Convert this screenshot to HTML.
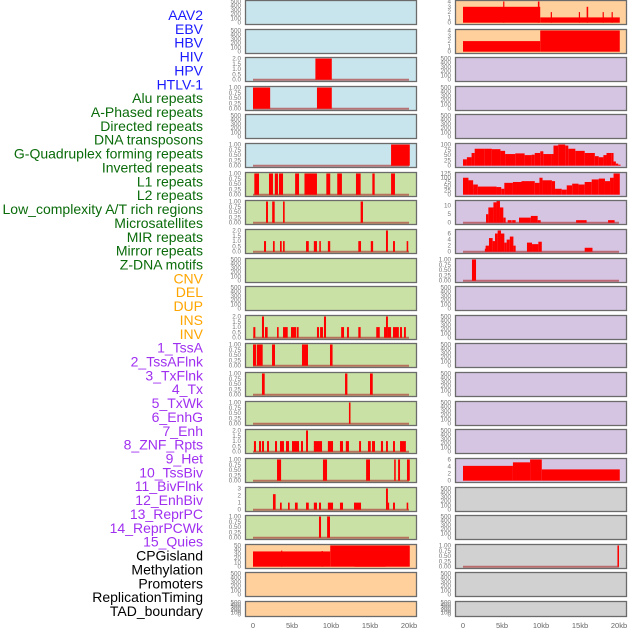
<!DOCTYPE html>
<html><head><meta charset="utf-8"><style>
html,body{margin:0;padding:0;background:#fff;width:630px;height:630px;overflow:hidden}
svg{display:block;font-family:"Liberation Sans",sans-serif}
</style></head><body>
<svg id="chart" width="630" height="630" viewBox="0 0 630 630"></svg>
<script>
// ---- labels ----
const trackLabels = ["AAV2","EBV","HBV","HIV","HPV","HTLV-1","Alu repeats","A-Phased repeats","Directed repeats","DNA transposons","G-Quadruplex forming repeats","Inverted repeats","L1 repeats","L2 repeats","Low_complexity A/T rich regions","Microsatellites","MIR repeats","Mirror repeats","Z-DNA motifs","CNV","DEL","DUP","INS","INV","1_TssA","2_TssAFlnk","3_TxFlnk","4_Tx","5_TxWk","6_EnhG","7_Enh","8_ZNF_Rpts","9_Het","10_TssBiv","11_BivFlnk","12_EnhBiv","13_ReprPC","14_ReprPCWk","15_Quies","CPGisland","Methylation","Promoters","ReplicationTiming","TAD_boundary"];
const labelGroupSizes = [6,13,5,15,5];
const xTickKb = [0,5,10,15,20];
const xTickLabels = ["0","5kb","10kb","15kb","20kb"];
// ---- y tick sets ----
const ticksEmpty = [0,100,200,300,400,500];
const ticksTwo = [0,0.5,1,1.5,2];
const ticksOne = [0,0.25,0.5,0.75,1];
const ticksFour = [0,1,2,3,4];
const ticksThree = [0,1,2,3];
const ticksHundred = [0,25,50,75,100];
const ticksHundred25 = [0,25,50,75,100,125];
const ticksTen = [0,5,10];
const ticksSix = [0,2,4,6];
const ticksFifty = [0,10,20,30,40,50];
// ---- series: [startKb, endKb, value] ----
const segC1R3 = [[8.0,10.1,2]];
const segC1R4 = [[0,2.2,1],[8.2,10.1,1]];
const segC1R6 = [[17.7,20.1,1]];
const segC1R7 = [[0.17,0.77,1],[2.05,2.56,1],[2.8,3.2,1],[3.33,3.85,1],[5.4,5.9,1],[6.6,8.2,1],[9.4,9.9,1],[10.8,11.4,1],[13.2,13.8,1],[15.3,15.6,1],[17.7,18.2,1]];
const segC1R8 = [[1.67,1.92,1],[2.46,2.78,1],[3.85,4.06,1],[13.8,14.1,1]];
const segC1R9 = [[1.41,1.67,1],[2.56,2.78,1],[3.46,3.68,1],[3.85,4.06,1],[6.8,7.15,1],[7.8,8.2,1],[8.5,8.7,1],[9.6,9.9,1],[13.5,13.85,1],[15.1,15.4,1],[17.05,17.3,2],[17.95,18.2,1],[19.7,19.9,1]];
const segC1R12 = [[0.04,0.3,1],[1.15,1.41,2],[1.54,1.88,1],[3.08,3.29,1],[3.85,4.45,1],[4.87,5.55,1],[5.64,5.85,1],[8.2,8.46,1],[8.6,8.97,1],[9.1,9.36,2],[11.3,11.67,1],[12.05,12.3,1],[13.5,13.8,1],[15.8,16.25,1],[16.8,17.05,1],[17.05,17.3,2],[17.3,17.7,1],[17.95,18.7,1],[18.85,19.1,1],[19.36,19.6,1]];
const segC1R13 = [[0,0.4,1],[0.5,1.24,1],[2.44,2.82,1],[6.28,7.05,1],[9.87,10.2,1]];
const segC1R14 = [[1.15,1.5,1],[11.8,12.1,1],[15.0,15.35,1]];
const segC1R15 = [[12.3,12.5,1]];
const segC1R16 = [[0.12,0.38,1],[0.77,1.03,1],[1.15,1.41,1],[1.8,2.05,1],[2.82,3.08,1],[3.46,3.97,1],[4.23,4.62,1],[5.0,5.9,1],[6.15,6.41,1],[6.8,7.05,2],[7.8,8.85,1],[9.6,10.26,1],[11.15,11.54,1],[11.9,12.3,1],[13.6,13.85,1],[14.74,15.1,1],[15.26,15.64,1],[16.4,16.67,1],[17.05,17.3,1],[17.95,18.2,1],[18.85,19.6,1]];
const segC1R17 = [[3.08,3.6,1],[8.97,9.49,1],[14.5,15.0,1],[18.1,18.3,1],[18.6,18.85,1],[19.74,20.1,1]];
const segC1R18 = [[2.56,2.9,2.2],[3.46,3.68,1],[4.49,4.7,1],[5.38,5.73,1],[6.8,7.15,1],[7.8,8.2,1],[8.46,8.72,1],[9.6,10.26,1],[11.15,11.54,1],[12.95,13.85,1],[17.05,17.3,3],[17.3,17.45,1],[17.95,18.2,1],[19.7,19.9,1]];
const segC1R19 = [[8.46,8.72,1],[9.5,9.87,1]];
const segC1R20 = [[0,9.9,36],[3.6,3.75,38],[8.8,8.95,37],[9.9,20.1,50],[13.0,17.0,50]];
const segC2R1 = [[0,9.9,3],[5.15,5.3,4],[9.6,9.8,4],[9.9,20.1,1],[11.25,11.4,2],[14.85,15.0,2],[15.85,16.05,3],[17.9,18.05,2],[19.05,19.2,2]];
const segC2R2 = [[0,9.9,2],[9.9,20.1,4]];
const segC2R6 = [[0,0.5,30],[0.5,1.1,40],[1.1,1.5,60],[1.5,2.8,80],[2.8,3.7,80],[3.7,4.8,78],[4.8,5.4,70],[5.4,6.7,55],[6.7,7.9,58],[7.9,8.8,50],[8.8,9.2,52],[9.2,9.9,60],[9.9,10.3,68],[10.3,11.4,55],[11.4,11.6,55],[11.6,12.2,95],[12.2,13.1,100],[13.1,13.5,95],[13.5,14.4,80],[14.4,15.6,70],[15.6,16.9,60],[16.9,17.4,45],[17.4,18.0,40],[18.0,18.4,50],[18.4,19.0,60],[19.0,19.3,60],[19.3,19.6,20],[19.6,19.9,10],[19.9,20.2,5]];
const segC2R7 = [[0,0.7,100],[0.7,1.3,85],[1.3,1.9,60],[1.9,4.3,48],[4.3,4.9,45],[4.9,5.3,35],[5.3,6.4,70],[6.4,7.5,75],[7.5,9.2,80],[9.2,9.8,70],[9.8,10.2,100],[10.2,11.4,85],[11.4,11.8,80],[11.8,12.65,35],[12.65,13.3,30],[13.3,14.0,55],[14.0,14.8,65],[14.8,15.6,60],[15.6,16.5,75],[16.5,17.4,90],[17.4,18.2,95],[18.2,18.85,80],[18.85,19.3,100],[19.3,20.1,125]];
const segC2R8 = [[2.95,3.25,5],[3.25,3.9,9],[3.9,4.3,12],[4.3,4.74,13],[4.74,5.17,9],[5.17,5.47,3],[5.73,6.24,1.5],[6.3,6.75,1.5],[7.18,8.7,3],[8.7,9.57,4],[9.57,9.96,1.5],[14.5,15.85,1.5],[18.6,19.44,1.5]];
const segC2R9 = [[2.8,2.9,1],[2.9,3.33,2],[3.33,3.8,4.5],[3.8,4.1,3.5],[4.1,4.44,6],[4.44,4.87,7],[4.87,5.3,6],[5.3,5.6,3],[5.6,6.0,4],[6.0,6.46,5],[6.46,6.75,2],[8.2,8.85,3],[8.85,9.66,2.5],[9.66,10.1,3.3],[15.6,16.6,1.3]];
const segC2R10 = [[1.15,1.67,1]];
const segC2R17 = [[0,6.4,4.2],[6.4,8.6,5.2],[8.6,10.1,6],[10.1,20.1,3.2]];
const segC2R20 = [[19.8,20.0,1]];

const BG = {blue:"#c8e4ec", green:"#c9e1a5", orange:"#ffd09c", purple:"#d6c5e2", grey:"#d1d1d1"};
const colX0 = [253,463], frameX = [245,455], FW = 172, KBPX = 7.8;
const labelColors = ["#1a1aff","#0a6b0a","#ffa500","#a030f0","#000000"];

const NS = "http://www.w3.org/2000/svg";
const svg = document.getElementById("chart");
function mk(tag, attrs, parent){ const e=document.createElementNS(NS,tag); for(const k in attrs) e.setAttribute(k,attrs[k]); (parent||svg).appendChild(e); return e; }

function panelTop(r){ return Math.round(r*28.62); }
function panelH(r){ return r===21 ? 16 : 25; }

// panel config (col,row,bg,ticks,max,series,baseline)
function cfg(col,row,bg,ticks,max,segs,base,tickFmt){ return {col,row,bg,ticks,max,segs,base,tickFmt}; }
const panels = [];
for(let r=0;r<22;r++){
  const bg1 = r<6 ? "blue" : (r<19 ? "green" : "orange");
  const bg2 = r<2 ? "orange" : (r<17 ? "purple" : "grey");
  panels.push(cfg(0,r,bg1,ticksEmpty,500,null,false,0));
  panels.push(cfg(1,r,bg2,ticksEmpty,500,null,false,0));
}
function setP(col,row,ticks,max,segs,base,fmt){ const p=panels[row*2+col]; p.ticks=ticks;p.max=max;p.segs=segs;p.base=base;p.tickFmt=fmt; }
setP(0,2,ticksTwo,2,segC1R3,true,1);
setP(0,3,ticksOne,1,segC1R4,true,2);
setP(0,5,ticksOne,1,segC1R6,true,2);
setP(0,6,ticksOne,1,segC1R7,true,2);
setP(0,7,ticksOne,1,segC1R8,true,2);
setP(0,8,ticksTwo,2,segC1R9,true,1);
setP(0,11,ticksTwo,2,segC1R12,true,1);
setP(0,12,ticksOne,1,segC1R13,true,2);
setP(0,13,ticksOne,1,segC1R14,true,2);
setP(0,14,ticksOne,1,segC1R15,true,2);
setP(0,15,ticksTwo,2,segC1R16,true,1);
setP(0,16,ticksOne,1,segC1R17,true,2);
setP(0,17,ticksThree,3,segC1R18,true,0);
setP(0,18,ticksOne,1,segC1R19,true,2);
setP(0,19,ticksFifty,50,segC1R20,false,0);
setP(1,0,ticksFour,4,segC2R1,false,0);
setP(1,1,ticksFour,4,segC2R2,false,0);
setP(1,5,ticksHundred,100,segC2R6,false,0);
setP(1,6,ticksHundred25,125,segC2R7,false,0);
setP(1,7,ticksTen,12.5,segC2R8,true,0);
setP(1,8,ticksSix,7,segC2R9,true,0);
setP(1,9,ticksOne,1,segC2R10,true,2);
setP(1,16,ticksSix,6,segC2R17,false,0);
setP(1,19,ticksOne,1,segC2R20,true,2);

// labels
let li=0;
labelGroupSizes.forEach((n,g)=>{
  for(let k=0;k<n;k++,li++){
    const t = mk("text",{x:203,y:(15+li*13.86).toFixed(1),"text-anchor":"end","dominant-baseline":"central","font-size":"14",fill:labelColors[g]});
    t.textContent = trackLabels[li];
    
    
  }
});

panels.forEach(p=>{
  const top = panelTop(p.row), h = panelH(p.row);
  const fx = frameX[p.col], x0 = colX0[p.col];
  const yTop = top+1.5, yBot = top+h-2.3;
  const xs = kb => x0 + kb*KBPX;
  const ys = v => yBot - (v/p.max)*(yBot-yTop);
  const g = mk("g",{});
  
  
  const bg = mk("rect",{x:fx,y:top,width:FW,height:h,fill:BG[p.bg]},g);
  
  
  if(p.base){
    const bl = mk("line",{x1:xs(0),x2:xs(20),y1:ys(0),y2:ys(0),stroke:"rgba(170,40,40,0.6)","stroke-width":2},g);
    
    
  }
  if(p.segs){
    p.segs.forEach(s=>{
      const b = mk("rect",{x:xs(s[0]).toFixed(2),y:ys(s[2]).toFixed(2),width:Math.max(1.2,(s[1]-s[0])*KBPX).toFixed(2),height:(ys(0)-ys(s[2])).toFixed(2),fill:"#ff0000"},g);
      
      
    });
  }
  const fr = mk("rect",{x:fx+0.5,y:top+0.5,width:FW-1,height:h-1,fill:"none",stroke:"#6b6b6b","stroke-width":1.3},g);
  
  
  p.ticks.forEach(v=>{
    const t = mk("text",{x:fx-4,y:(ys(v)+2).toFixed(1),"text-anchor":"end","font-size":"6.3",fill:"#777"},g);
    t.textContent = v.toFixed(p.tickFmt);
    
    
  });
});

// x axes
[0,1].forEach(c=>{
  xTickKb.forEach((kb,i)=>{
    const t = mk("text",{x:colX0[c]+kb*KBPX,y:628,"text-anchor":"middle","font-size":"7.5",fill:"#666"});
    t.textContent = xTickLabels[i];
    
    
  });
});
</script>
</body></html>
